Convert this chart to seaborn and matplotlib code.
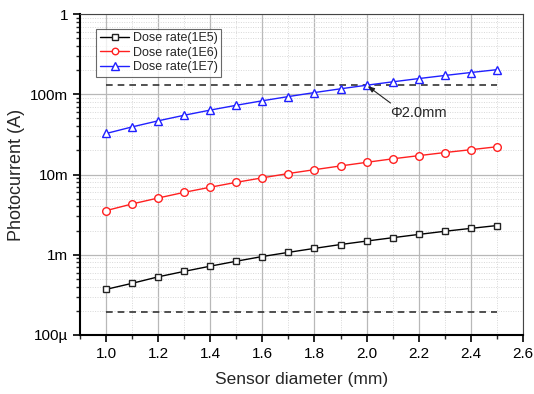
import numpy as np
import pandas as pd
import matplotlib
matplotlib.use("Agg")
import matplotlib.pyplot as plt
import seaborn as sns
from matplotlib.ticker import FixedLocator, FixedFormatter, LogLocator, NullFormatter, MultipleLocator

diameter = [1.0, 1.1, 1.2, 1.3, 1.4, 1.5, 1.6, 1.7, 1.8, 1.9, 2.0, 2.1, 2.2, 2.3, 2.4, 2.5]
dose_1e5 = [0.37, 0.44, 0.53, 0.62, 0.72, 0.83, 0.95, 1.07, 1.20, 1.34, 1.48, 1.63, 1.79, 1.96, 2.13, 2.31]  # mA
dose_1e6 = [3.55, 4.3, 5.1, 6.0, 6.95, 8.0, 9.1, 10.3, 11.5, 12.8, 14.2, 15.7, 17.2, 18.8, 20.4, 22.2]  # mA
dose_1e7 = [32.5, 39.3, 46.8, 54.9, 63.7, 73.1, 83.2, 93.9, 105.3, 117.3, 130.0, 143.3, 157.3, 171.9, 187.2, 203.1]  # mA
series_names = ["Dose rate(1E5)", "Dose rate(1E6)", "Dose rate(1E7)"]
ref_upper = 0.130   # A
ref_lower = 0.000194  # A
ref_x = [1.0, 2.5]
annot_text = "Φ2.0mm"
annot_x = 2.0
ytick_vals = [1e-4, 1e-3, 1e-2, 1e-1, 1]
ytick_labels = ["100µ", "1m", "10m", "100m", "1"]

sns.set_style("white")
plt.rcParams['font.family'] = ['Liberation Sans', 'DejaVu Sans']

df = pd.DataFrame({
    "d": diameter * 3,
    "I": [v * 1e-3 for v in dose_1e5 + dose_1e6 + dose_1e7],
    "s": sum([[n] * len(diameter) for n in series_names], []),
})

fig = plt.figure(figsize=(5.34, 3.94), dpi=100)
ax = fig.add_axes([0.150, 0.150, 0.829, 0.814])

colors = ["#000000", "#ff2020", "#2020ff"]
markers = ["s", "o", "^"]
msizes = [5, 5.5, 6]
for name, c, m, ms in zip(series_names, colors, markers, msizes):
    sub = df[df["s"] == name]
    sns.lineplot(data=sub, x="d", y="I", ax=ax, color=c, marker=m, markersize=ms,
                 markerfacecolor="white", markeredgecolor=c if c != "#000000" else "#222222",
                 markeredgewidth=1.0, linewidth=1.0, label=name, zorder=3)

ax.plot(ref_x, [ref_upper, ref_upper], color="#333333", linestyle=(0, (4, 3)), linewidth=1.2, zorder=2)
ax.plot(ref_x, [ref_lower, ref_lower], color="#333333", linestyle=(0, (4, 3)), linewidth=1.2, zorder=2)

ax.set_yscale("log")
ax.set_xlim(0.9, 2.6)
ax.set_ylim(1e-4, 1)
ax.xaxis.set_minor_locator(MultipleLocator(0.1))
ax.set_xticks([1.0, 1.2, 1.4, 1.6, 1.8, 2.0, 2.2, 2.4, 2.6])
ax.set_xticklabels(["1.0", "1.2", "1.4", "1.6", "1.8", "2.0", "2.2", "2.4", "2.6"])
ax.yaxis.set_major_locator(FixedLocator(ytick_vals))
ax.yaxis.set_major_formatter(FixedFormatter(ytick_labels))
ax.yaxis.set_minor_locator(LogLocator(base=10, subs=np.arange(2, 10)))
ax.yaxis.set_minor_formatter(NullFormatter())

ax.grid(which="major", color="#b8b8b8", linewidth=0.9, linestyle="-")
ax.grid(which="minor", color="#d8d8d8", linewidth=0.7, linestyle=(0, (1, 1.5)))
ax.set_axisbelow(True)

for sp in ["left", "bottom"]:
    ax.spines[sp].set_linewidth(1.5)
    ax.spines[sp].set_color("black")
for sp in ["top", "right"]:
    ax.spines[sp].set_linewidth(0.8)
    ax.spines[sp].set_color("#444444")

ax.tick_params(which="major", direction="out", length=5, width=1.2, labelsize=11, colors="black",
               bottom=True, left=True, top=False, right=False)
ax.tick_params(which="minor", direction="out", length=3, width=1.0, bottom=True, left=True, top=False, right=False)

ax.set_xlabel("Sensor diameter (mm)", fontsize=12.5, labelpad=8)
ax.set_ylabel("Photocurrent (A)", fontsize=13, labelpad=4)

leg = ax.legend(loc="upper left", bbox_to_anchor=(0.037, 0.955), fontsize=9, frameon=True,
                fancybox=False, edgecolor="#444444", borderpad=0.3, labelspacing=0.2,
                handlelength=2.3, handletextpad=0.3, borderaxespad=0, markerscale=0.85)
leg.get_frame().set_linewidth(0.8)

ax.text(2.09, 0.058, annot_text, fontsize=10.5, ha="left", va="center")
ax.annotate("", xy=(annot_x, ref_upper), xytext=(2.092, 0.078),
            arrowprops=dict(arrowstyle="-|>,head_length=0.4,head_width=0.15", color="#222222",
                            lw=0.8, shrinkA=0, shrinkB=1))

fig.savefig("out.png", dpi=100)
